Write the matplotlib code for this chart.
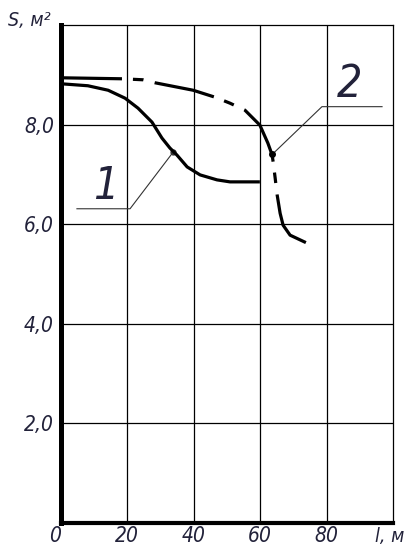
import numpy as np
import matplotlib
matplotlib.use('Agg')
import matplotlib.pyplot as plt

# curve 1 (solid)
l1 = [0.0, 8.1, 14.2, 19.3, 23.2, 27.4, 30.4, 32.8, 34.9, 38.0, 41.9, 47.0, 50.9, 59.9]
s1 = [8.82, 8.78, 8.69, 8.53, 8.33, 8.05, 7.73, 7.53, 7.39, 7.15, 6.99, 6.89, 6.85, 6.85]

# curve 2 (dash-dot)
l2 = [0.0, 18.4, 24.7, 28.3, 39.8, 46.4, 50.9, 55.4, 59.9, 62.3, 63.6, 63.9, 64.5,
      65.1, 66.0, 66.9, 69.0, 74.1]
s2 = [8.94, 8.92, 8.90, 8.84, 8.69, 8.55, 8.43, 8.29, 7.99, 7.63, 7.39, 7.25, 6.93,
      6.59, 6.22, 5.98, 5.78, 5.62]

xticks = [0, 20, 40, 60, 80]
xlabels = ['0', '20', '40', '60', '80']
yticks = [2, 4, 6, 8]
ylabels = ['2,0', '4,0', '6,0', '8,0']

plt.rcParams['lines.scale_dashes'] = False
fam = ['DejaVu Sans']
tcol = '#22223a'

fig = plt.figure(figsize=(4.06, 5.46), dpi=100)
ax = fig.add_axes([61/406, 23/546, 332/406, 498/546])
ax.set_xlim(0, 100)
ax.set_ylim(0, 10)

for x in xticks[1:]:
    ax.axvline(x, color='black', lw=0.9, zorder=1)
for y in yticks:
    ax.axhline(y, color='black', lw=0.9, zorder=1)

ax.plot(l1, s1, color='black', lw=2.3, solid_capstyle='butt',
        solid_joinstyle='round', zorder=3)
ax.plot(l2, s2, color='black', lw=2.3, dash_capstyle='butt',
        dash_joinstyle='round', zorder=3,
        linestyle=(0, (43.9, 7.9, 7.6, 8.3)))

# leaders
ax.plot([4.8, 20.8, 33.7], [6.31, 6.31, 7.44], color='#333333', lw=0.8, zorder=2)
ax.plot([33.7], [7.44], 'o', color='#333333', ms=3.5, zorder=2)
ax.plot([63.6, 78.6, 96.7], [7.40, 8.36, 8.36], color='#333333', lw=0.8, zorder=2)
ax.plot([63.6], [7.40], 'o', color='black', ms=4, zorder=2)
ax.text(13.5, 6.75, '1', fontsize=32, style='italic', family=fam, color=tcol,
        ha='center', va='center', fontstretch='condensed')
ax.text(87.0, 8.8, '2', fontsize=32, style='italic', family=fam, color=tcol,
        ha='center', va='center', fontstretch='condensed')

for side in ['top', 'right']:
    ax.spines[side].set_linewidth(0.9)
ax.spines['left'].set_linewidth(3.6)
ax.spines['bottom'].set_linewidth(3.0)

ax.set_xticks(xticks)
ax.set_xticklabels(xlabels, fontsize=15, style='italic', family=fam, color=tcol,
                   fontstretch='condensed')
ax.set_yticks(yticks)
ax.set_yticklabels(ylabels, fontsize=15, style='italic', family=fam, color=tcol,
                   fontstretch='condensed')
ax.tick_params(axis='x', length=0, pad=2)
ax.tick_params(axis='y', length=0, pad=5)
ax.get_xticklabels()[0].set_horizontalalignment('right')

fig.text(8/406, 1 - 21/546, 'S, м²', fontsize=14, style='italic', family=fam,
         color=tcol, ha='left', va='center', fontstretch='condensed')
fig.text(404/406, 1 - 537/546, 'l, м', fontsize=14, style='italic', family=fam,
         color=tcol, ha='right', va='center', fontstretch='condensed')

fig.savefig('out.png', dpi=100)
